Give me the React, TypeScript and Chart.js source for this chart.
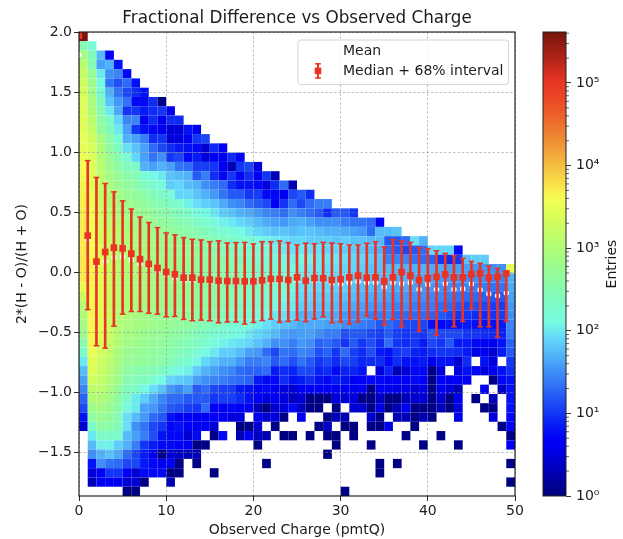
import React, { useEffect, useRef } from "react";
import { Chart, registerables } from "chart.js";

Chart.register(...registerables);

const _ = null;
const TITLE = "Fractional Difference vs Observed Charge";
const X_LABEL = "Observed Charge (pmtQ)";
const Y_LABEL = "2*(H - O)/(H + O)";
const CB_LABEL = "Entries";
const LEGEND_LABELS = ["Mean", "Median + 68% interval"];
const X_TICKS = [0, 10, 20, 30, 40, 50];
const Y_TICKS = [-1.5, -1, -0.5, 0, 0.5, 1, 1.5, 2];
const CB_TICKS = [1, 10, 100, 1000, 10000, 100000];
const CB_TICK_LABELS = ["10⁰", "10¹", "10²", "10³", "10⁴", "10⁵"];
const CB_MINOR = [2,3,4,5,6,7,8,9,20,30,40,50,60,70,80,90,200,300,400,500,600,700,800,900,2000,3000,4000,5000,6000,7000,8000,9000,20000,30000,40000,50000,60000,70000,80000,90000,200000,300000,400000];
const V_MAX = 414000;
const Y_MIN = -1.86;
const Y_MAX = 2;

// log10(entries) per histogram cell: one list per row, top row first, columns left to right
const heatRows = [
[5.62],
[2.5,2.2],
[2.9,2.4,1.75,.65],
[3.1,2.5,1.6,1.7,.8],
[3.2,2.7,2,1.5,1.45,.75],
[3.3,2.8,2.1,1.35,1.15,1.3,.8],
[3.35,2.85,2.2,1.7,1.35,1.1,.95,.8],
[3.4,2.95,2.4,1.8,1.55,1.35,.75,.75,.95,.05],
[3.42,3,2.5,2,1.65,1,1,.85,.95,1,.6],
[3.45,3.1,2.6,2.3,1.9,1.45,1.45,.7,.95,.6,.95,.95],
[3.45,3.2,2.7,2.4,2,1.6,1,.8,.75,.6,.5,.45,.8,.6],
[3.5,3.3,2.95,2.55,2.2,1.7,1.6,1.4,.95,1,.5,.5,.65,1,1.1],
[3.5,3.35,3,2.65,2.35,1.95,1.8,1.6,1.3,1.1,.95,.85,.8,.75,.45,.95,.65],
[3.55,3.4,3.05,2.75,2.5,2.2,1.9,1.6,1.35,1.5,1,1.1,.75,.85,.5,.65,.6,.95,.75],
[3.6,3.4,3.1,2.8,2.6,2.4,2.3,1.7,1.6,1.7,1.6,1.35,1.3,1.05,1.05,1,.65,.3,1,1.1,.5],
[3.62,3.45,3.15,2.85,2.7,2.55,2.45,2.2,2.1,2,1.8,1.75,1.7,1.2,1.4,.95,.75,1,.75,.95,.65,1,.3],
[3.65,3.45,3.2,2.95,2.75,2.65,2.55,2.4,2.25,2.15,1.85,1.9,1.75,1.7,1.5,1.4,1.3,.95,.8,.8,.75,.5,.95,1.3,.3],
[3.68,3.5,3.2,3,2.85,2.75,2.65,2.55,2.4,2.3,2.2,1.9,1.9,1.8,1.7,1.55,1.35,1.2,1.2,1,1.05,.75,.75,.6,1.1,1.2,.95],
[3.7,3.5,3.25,3,2.9,2.8,2.75,2.65,2.55,2.45,2.35,2.25,2.05,1.95,1.85,1.8,1.65,1.5,1.45,1.3,1.2,1.1,.65,1,1.3,1.1,1.3,1.4,1.4],
[3.73,3.55,3.3,3.05,2.95,2.85,2.8,2.75,2.65,2.55,2.5,2.4,2.3,2.15,2.1,2,1.85,1.8,1.7,1.65,1.55,1.45,1.4,1.3,1.5,1.4,1.3,1.2,.95,1.2,1.2,1],
[3.73,3.55,3.3,3.1,3,2.9,2.85,2.8,2.75,2.65,2.6,2.5,2.45,2.35,2.25,2.15,2.05,2,1.9,1.85,1.75,1.65,1.6,1.55,1.65,1.7,1.6,1.5,1.5,1.5,1.4,1.35,1.35,1.3,.65],
[3.73,3.55,3.35,3.15,3.05,2.95,2.9,2.85,2.8,2.75,2.7,2.6,2.55,2.5,2.4,2.3,2.25,2.2,2.1,2,1.9,1.85,1.8,1.8,1.75,1.8,1.8,1.75,1.7,1.7,1.65,1.6,1.55,1.3,1.75,1.75,1.8],
[3.73,3.6,3.35,3.2,3.05,3,2.95,2.9,2.85,2.8,2.75,2.7,2.65,2.6,2.55,2.45,2.4,2.3,2.25,2.2,2.1,2.05,2,1.95,1.9,1.9,1.85,1.85,1.85,1.8,1.85,1.8,1.8,1.75,1.75,1.2,1.2,1.3,1.95,1.7],
[3.73,3.6,3.4,3.2,3.05,3,2.95,2.9,2.85,2.8,2.75,2.75,2.7,2.65,2.55,2.5,2.45,2.4,2.3,2.25,2.2,2.15,2.05,2,1.95,2,1.95,1.95,1.9,1.9,1.85,1.85,1.8,1.75,1.7,1.3,1.2,1.1,1.2,1.3,1.9,1.9,1.9,.75],
[3.73,3.65,3.4,3.2,3.05,3,2.95,2.9,2.85,2.8,2.8,2.75,2.7,2.65,2.6,2.55,2.5,2.45,2.4,2.3,2.25,2.2,2.15,2.1,2.05,2.1,2.05,2,2,2,1.95,1.9,1.9,1.85,1.8,1.45,1.45,1.45,1.35,1.3,1.25,1,.95,1,1.8,1.85,1.85],
[3.73,3.65,3.45,3.25,3.05,3,2.95,2.9,2.85,2.8,2.8,2.75,2.7,2.65,2.6,2.55,2.55,2.5,2.45,2.4,2.3,2.25,2.2,2.15,2.1,2.05,2,2,1.95,1.95,1.9,1.9,1.85,1.8,1.8,1.75,1.75,1.7,1.7,1.7,1.65,1.65,1.6,1.6,1.6,1.55,1.55,1.5,1.5,3.5],
[3.73,3.65,3.5,3.25,3.05,3,2.95,2.9,2.85,2.8,2.8,2.75,2.7,2.65,2.6,2.55,2.55,2.5,2.5,2.4,2.35,2.3,2.25,2.2,2.15,2,2,1.95,1.95,1.9,1.9,1.85,1.8,1.8,1.75,1.75,1.7,1.7,1.65,1.65,1.6,1.55,1.55,1.55,1.5,1.5,1.5,1.45,1.45,1.7],
[3.55,3.65,3.5,3.25,3.05,3,2.95,2.9,2.85,2.8,2.8,2.75,2.7,2.65,2.6,2.55,2.55,2.5,2.45,2.4,2.35,2.3,2.25,2.2,2.1,1.95,1.95,1.9,1.9,1.85,1.85,1.8,1.75,1.75,1.7,1.7,1.65,1.65,1.6,1.55,1.55,1.5,1.5,1.45,1.45,1.4,1.4,1.35,1.35,1.65],
[3.3,3.65,3.5,3.25,3.05,3,2.95,2.9,2.85,2.8,2.75,2.75,2.7,2.65,2.6,2.55,2.55,2.5,2.45,2.35,2.3,2.25,2.2,2.15,2.05,1.9,1.9,1.85,1.85,1.8,1.8,1.75,1.7,1.65,1.65,1.6,1.55,1.55,1.5,1.5,1.45,1.45,1.4,1.35,1.3,1.3,1.25,1.2,1.2,1.6],
[3.05,3.65,3.5,3.25,3.05,3,2.95,2.85,2.85,2.8,2.75,2.7,2.7,2.65,2.6,2.55,2.5,2.45,2.35,2.3,2.25,2.2,2.1,2.05,2,1.85,1.85,1.8,1.8,1.75,1.7,1.65,1.6,1.55,1.55,1.5,1.45,1.5,1.4,1.4,1.4,1.3,1.3,1.2,1.1,1.15,1.1,1.05,1.05,1.55],
[3,3.65,3.5,3.25,3.05,3,2.9,2.85,2.8,2.75,2.7,2.7,2.65,2.6,2.55,2.5,2.4,2.35,2.3,2.25,2.15,2.1,2,1.95,1.9,1.7,1.7,1.7,1.7,1.65,1.55,1.5,1.5,1.4,1.4,1.45,1.3,1.3,1.3,1.3,1.25,1.2,1.1,1,1,.95,.95,1,1.05,1.5],
[2.9,3.65,3.5,3.25,3.05,2.95,2.9,2.85,2.8,2.75,2.7,2.65,2.6,2.55,2.45,2.4,2.3,2.25,2.2,2.15,2.05,1.95,1.85,1.8,1.75,1.65,1.65,1.65,1.6,1.6,1.5,1.45,1.4,1.35,1.2,1.3,1.2,1.1,1.1,1.1,.8,.75,.8,.8,.85,.8,.8,.8,.85,1.45],
[2.8,3.65,3.5,3.25,3.05,2.9,2.85,2.8,2.75,2.7,2.65,2.6,2.5,2.45,2.35,2.25,2.2,2.15,2.1,2,1.9,1.85,1.75,1.6,1.55,1.6,1.6,1.5,1.4,1.4,1.15,1.2,1.2,1.1,1.05,1.2,1.05,1,1.05,1,1.2,1.1,1.1,1.1,1,1,.95,.95,.9,1.4],
[2.55,3.65,3.4,3.2,3,2.85,2.8,2.75,2.7,2.65,2.6,2.5,2.45,2.35,2.25,2.15,2.05,2,1.95,1.9,1.8,1.7,1.5,1.5,1.4,1.55,1.5,1.25,1.3,1.2,1,1.2,1,1.15,.95,1.3,1,.95,1,.85,1.1,1,1.2,.85,.85,.75,.65,.6,.8,1.25],
[2.3,3.55,3.35,3.15,2.95,2.75,2.75,2.7,2.65,2.6,2.55,2.45,2.35,2.25,2.1,2,1.85,1.85,1.75,1.6,1.55,1.3,1.1,1.35,1.3,1.45,1.4,1.15,1.25,1,1.3,1.05,.95,1.15,.85,.8,1,1.05,.9,.85,.95,1,1,.95,.85,.55,.6,.45,.85,1.2],
[2,3.45,3.3,3.1,2.9,2.7,2.7,2.65,2.6,2.55,2.45,2.35,2.25,2.1,1.9,1.8,1.7,1.7,1.55,1.4,1.4,1.45,1.2,1.3,1.15,1.35,1.2,1,1.1,.95,1.1,1.05,.9,.95,.95,.75,.95,.8,.8,.85,.6,.8,.8,.45,.95,_,.8,.5,_,1],
[1.75,3.4,3.25,3.05,2.85,2.6,2.55,2.5,2.45,2.35,2.2,2.1,2.05,1.85,1.7,1.6,1.5,1.45,1.3,1.25,1.25,1.3,.85,.95,.9,1.1,1.1,.9,.95,.75,.9,.9,.8,_,.5,.9,.3,.45,.75,.75,.05,.5,_,.5,.8,.75,.5,.6,.8,.95],
[1.6,3.3,3.2,3,2.8,2.5,2.45,2.4,2.25,2.1,1.9,1.85,1.8,1.6,1.5,1.45,1.4,1.35,1.3,1.25,.85,.75,.75,.95,.8,.85,.95,.8,.75,.85,.8,.65,.65,.75,.75,.65,.7,.65,.75,.7,.05,.7,.7,.65,.6,_,_,.05,.75,.8],
[1.45,3.1,3.1,2.95,2.7,2.4,2.3,2.1,1.95,1.8,1.55,1.45,1.6,1.2,1.3,1.1,1.05,1.05,.85,.8,.7,.75,.65,.5,.45,.7,.65,.7,.65,.6,.65,.6,.65,.05,.6,.6,.55,.55,.45,.55,.05,.6,.5,.3,_,_,.65,_,.35,.8],
[1.25,3,3,2.85,2.6,2.3,2,1.85,1.65,1.45,1.3,1.3,1.2,1.2,1.2,1,1.05,1.05,.95,.8,.65,.5,.6,.5,.3,.45,.05,.05,.05,.5,.45,.5,.05,.05,.35,.05,.05,.3,.45,.45,.05,.45,.05,.6,_,.05,_,.3,_,.8],
[1.1,2.8,2.9,2.75,2.55,2.15,2,1.6,1.55,1.35,1.2,1.15,1.05,1,1.3,.65,.7,.75,.65,.65,.3,.05,.45,.5,.75,.35,.05,.05,_,.05,_,.45,.45,.05,.55,.05,.3,.65,.05,.05,.05,.3,.05,.5,_,_,.05,.05,_,.8],
[.8,2.6,2.75,2.65,2.45,1.95,1.75,1.55,1.3,1.2,.8,.7,.65,.6,.65,.7,.65,.5,.5,_,.6,.45,.5,.05,_,.6,_,_,.05,.3,.3,_,_,.45,.05,_,.3,.3,.05,.3,.05,_,_,.55,_,_,_,.5,_,.75],
[.45,2.3,2.6,2.55,2.4,1.95,1.5,1.35,1.1,1,.75,.8,.7,.6,.65,.45,_,_,.05,.05,.45,_,.05,_,_,_,_,.05,.35,_,.05,.05,_,.05,.05,.55,_,_,.05,_,_,_,_,_,_,_,_,_,.05,.75],
[_,2,2.3,2.3,2.25,1.75,1.6,1.4,1.15,.8,.75,.75,.45,.75,_,.05,.75,_,.3,.65,.35,.3,_,.05,.05,_,.05,_,.05,.05,_,.05,_,_,_,_,_,.05,_,_,_,.05,_,_,_,_,_,_,_,.05],
[_,1.75,2.05,2.05,1.85,1.7,1.4,1,.85,.75,.75,.65,.6,.05,.05,_,_,_,_,_,.05,_,_,_,_,_,_,_,_,.05,_,_,_,.05,_,_,_,_,_,.05,_,_,_,.05,_,_,_,_,_,.6],
[_,1.5,1.7,1.8,1.65,1.3,1.1,.85,.65,.05,.45,.35,.3,.3,_,_,_,_,_,_,_,_,_,_,_,_,_,_,.05],
[_,.8,1.5,1.35,1.3,1.1,1.1,.85,.75,.6,.65,.05,_,.05,_,_,_,_,_,_,_,.05,_,_,_,_,_,_,_,_,_,_,_,_,.05,_,.05,_,_,_,_,_,_,_,_,_,_,_,_,.05],
[_,.5,.65,1,1,.65,.45,.75,.75,.75,.05,.05,_,_,_,.05,_,_,_,_,_,_,_,_,_,_,_,_,_,_,_,_,_,_,.05],
[_,.3,.6,.65,.6,.45,.45,.05,_,_,.3,_,_,_,_,_,_,_,_,_,_,_,_,_,_,_,_,_,_,_,_,_,_,_,_,_,_,_,_,_,_,_,_,_,_,_,_,_,_,.05],
[_,_,_,_,_,.05,.05,_,_,_,_,_,_,_,_,_,_,_,_,_,_,_,_,_,_,_,_,_,_,_,.05],
];

// index = observed charge 0..49
const medianVals = [1.97,.306,.09,.17,.206,.2,.156,.11,.07,.037,.003,-.016,-.044,-.044,-.06,-.06,-.069,-.072,-.072,-.074,-.074,-.066,-.055,-.055,-.063,-.041,-.069,-.047,-.049,-.063,-.058,-.041,-.027,-.044,-.041,-.074,-.041,.003,-.027,-.063,-.047,-.036,-.016,-.041,-.041,-.016,-.008,-.044,-.036,-.008];
const hiVals = [2,.93,.79,.74,.67,.595,.527,.46,.415,.373,.328,.312,.29,.276,.27,.256,.262,.245,.248,.25,.237,.256,.256,.262,.248,.228,.243,.239,.25,.245,.239,.228,.228,.243,.256,.212,.273,.262,.25,.206,.198,.18,.158,.139,.117,.092,.076,.053,.034,.01];
const loVals = [1.95,-.31,-.61,-.63,-.447,-.347,-.325,-.325,-.34,-.347,-.369,-.366,-.391,-.402,-.397,-.402,-.419,-.413,-.413,-.43,-.416,-.4,-.388,-.416,-.408,-.397,-.41,-.388,-.369,-.419,-.413,-.43,-.413,-.363,-.388,-.438,-.391,-.452,-.386,-.488,-.386,-.524,-.324,-.452,-.408,-.302,-.452,-.452,-.538,-.408];
const meanVals = [1.81,.27,.07,.092,.125,.13,.104,.07,.048,.014,-.019,-.047,-.06,-.065,-.07,-.075,-.08,-.085,-.085,-.085,-.085,-.08,-.075,-.075,-.075,-.065,-.08,-.065,-.06,-.09,-.097,-.088,-.077,-.085,-.085,-.124,-.088,-.094,-.085,-.141,-.102,-.141,-.094,-.141,-.135,-.097,-.144,-.18,-.194,-.172];

const FONT = "'DejaVu Sans'";
const TEXT = "#1c1c1c";
const RED = "rgb(234,51,35)";

const lin = (c: number) => (c <= 0.04045 ? c / 12.92 : Math.pow((c + 0.055) / 1.055, 2.4));
const enc = (c: number) => (c <= 0.0031308 ? 12.92 * c : 1.055 * Math.pow(c, 1 / 2.4) - 0.055);
const seg = (t: number, s: number[][]) => {
  for (let i = 1; i < s.length; i++) {
    if (t <= s[i][0]) return s[i - 1][1] + ((t - s[i - 1][0]) / (s[i][0] - s[i - 1][0])) * (s[i][1] - s[i - 1][1]);
  }
  return s[s.length - 1][1];
};
const R = [[0, 0], [0.35, 0], [0.66, 1], [0.89, 1], [1, 0.5]];
const G = [[0, 0], [0.125, 0], [0.375, 1], [0.64, 1], [0.91, 0], [1, 0]];
const B = [[0, 0.5], [0.11, 1], [0.34, 1], [0.65, 0], [1, 0]];
function jet(t: number) {
  const r = lin(seg(t, R)), g = lin(seg(t, G)), b = lin(seg(t, B));
  const to = (v: number) => Math.round(255 * enc(Math.min(1, v)));
  return `rgb(${to(0.8225 * r + 0.1774 * g)},${to(0.0332 * r + 0.9669 * g)},${to(0.0171 * r + 0.0724 * g + 0.9108 * b)})`;
}

const ROW_H = (Y_MAX - Y_MIN) / 50;
const heatCells: { x: number; y: number; v: number }[] = [];
heatRows.forEach((row, r) => row.forEach((v, c) => {
  if (v !== null) heatCells.push({ x: c + 0.5, y: Y_MAX - (r + 0.5) * ROW_H, v });
}));
const lmax = Math.log10(V_MAX);

const heatPlugin = {
  id: "heat",
  beforeDraw(chart: any) {
    const { ctx, scales: { x, y } } = chart;
    ctx.save();
    for (const p of chart.data.datasets[3].data) {
      const x0 = x.getPixelForValue(p.x - 0.5), x1 = x.getPixelForValue(p.x + 0.5);
      const y0 = y.getPixelForValue(p.y + ROW_H / 2), y1 = y.getPixelForValue(p.y - ROW_H / 2);
      ctx.fillStyle = jet(p.v / lmax);
      ctx.fillRect(x0, y0, x1 - x0, y1 - y0);
    }
    ctx.restore();
  },
  afterDraw(chart: any) {
    const { ctx, chartArea: a } = chart;
    ctx.save();
    ctx.strokeStyle = "#111";
    ctx.lineWidth = 1.1;
    ctx.strokeRect(a.left, a.top, a.right - a.left, a.bottom - a.top);
    // legend box
    const bx = 298, by = 40, bw = 210.5, bh = 44.5, rad = 3;
    ctx.beginPath();
    ctx.roundRect(bx, by, bw, bh, rad);
    ctx.fillStyle = "rgba(255,255,255,0.8)";
    ctx.fill();
    ctx.strokeStyle = "#d4d4d4";
    ctx.lineWidth = 1;
    ctx.stroke();
    ctx.fillStyle = TEXT;
    ctx.font = `14px ${FONT}`;
    ctx.textBaseline = "middle";
    ctx.textAlign = "left";
    ctx.fillText(LEGEND_LABELS[0], 343, 51.5);
    ctx.fillText(LEGEND_LABELS[1], 343, 71.5);
    ctx.fillStyle = RED;
    ctx.fillRect(317, 64, 2, 14);
    ctx.fillRect(315.2, 63, 5.6, 1.6);
    ctx.fillRect(315.2, 77.2, 5.6, 1.6);
    ctx.fillRect(314.7, 67.6, 6.6, 6.6);
    ctx.restore();
  },
};

const colorbarPlugin = {
  id: "cbar",
  afterDraw(chart: any) {
    const { ctx, chartArea: a, scales: { y } } = chart;
    ctx.save();
    ctx.strokeStyle = "#222";
    ctx.lineWidth = 1;
    ctx.strokeRect(a.left, a.top, a.right - a.left, a.bottom - a.top);
    ctx.beginPath();
    for (const v of CB_MINOR) {
      const py = y.getPixelForValue(v);
      ctx.moveTo(a.right, py);
      ctx.lineTo(a.right + 3, py);
    }
    ctx.strokeStyle = "#222";
    ctx.lineWidth = 0.7;
    ctx.stroke();
    ctx.translate(82, (a.top + a.bottom) / 2);
    ctx.rotate(-Math.PI / 2);
    ctx.fillStyle = TEXT;
    ctx.font = `14px ${FONT}`;
    ctx.textAlign = "center";
    ctx.textBaseline = "middle";
    ctx.fillText(CB_LABEL, 0, 0);
    ctx.restore();
  },
};

export default function App() {
  const mainRef = useRef<HTMLCanvasElement>(null);
  const barRef = useRef<HTMLCanvasElement>(null);

  useEffect(() => {
    const xs = medianVals.map((_v, i) => i);
    const tickFont = { family: FONT, size: 14 };
    const main = new Chart(mainRef.current!, {
      type: "scatter",
      plugins: [heatPlugin],
      data: {
        datasets: [
          { label: "median", data: xs.map((x) => ({ x, y: medianVals[x] })), pointStyle: "rect", pointRadius: 4.7, backgroundColor: RED, borderWidth: 0, order: 0 },
          { label: "stems", type: "bar", data: xs.map((x) => ({ x, y: [loVals[x], hiVals[x]] })), barThickness: 2, backgroundColor: RED, grouped: false, order: 1 },
          { label: "caps", data: xs.flatMap((x) => [{ x, y: loVals[x] }, { x, y: hiVals[x] }]), pointStyle: "line", pointRadius: 2.8, borderColor: RED, borderWidth: 1.5, order: 1 },
          { label: "heat", data: heatCells, pointRadius: 0, order: 4 },
          { label: "mean", data: xs.map((x) => ({ x, y: meanVals[x] })), pointStyle: "circle", pointRadius: 2.7, backgroundColor: "#fff", borderWidth: 0, order: 3 },
        ],
      } as any,
      options: {
        responsive: false,
        animation: false,
        events: [],
        layout: { padding: { left: 0, right: 108, top: 0, bottom: 0 } },
        plugins: {
          legend: { display: false },
          tooltip: { enabled: false },
          title: {
            display: true,
            text: TITLE,
            fullSize: false,
            color: TEXT,
            font: { family: FONT, size: 16.8, weight: "normal" },
            padding: { top: 9, bottom: 2.84 },
          },
        },
        scales: {
          x: {
            type: "linear",
            min: 0,
            max: 50,
            offset: false,
            afterFit: (s: any) => { s.height = 43; },
            afterBuildTicks: (s: any) => { s.ticks = X_TICKS.map((value) => ({ value })); },
            ticks: { font: tickFont, color: TEXT, padding: 2, maxRotation: 0, callback: (v: any) => String(v) },
            grid: { offset: false, color: "rgba(135,135,135,0.6)", lineWidth: 0.9, tickColor: "#111", tickLength: 5, tickWidth: 0.9 },
            border: { dash: [2.4, 2], display: false },
            title: { display: true, text: X_LABEL, color: TEXT, font: tickFont, padding: { top: 3, bottom: 0.5 } },
          },
          y: {
            type: "linear",
            min: Y_MIN,
            max: Y_MAX,
            afterFit: (s: any) => { s.width = 79; },
            afterBuildTicks: (s: any) => { s.ticks = Y_TICKS.map((value) => ({ value })); },
            ticks: { font: tickFont, color: TEXT, padding: 2, callback: (v: any) => Number(v).toFixed(1).replace("-", "\u2212") },
            grid: { color: "rgba(135,135,135,0.6)", lineWidth: 0.9, tickColor: "#111", tickLength: 5, tickWidth: 0.9 },
            border: { dash: [2.4, 2], display: false },
            title: { display: true, text: Y_LABEL, color: TEXT, font: tickFont, padding: { top: 14, bottom: 0 } },
          },
        },
      },
    } as any);

    const cbar = new Chart(barRef.current!, {
      type: "bar",
      plugins: [colorbarPlugin],
      data: {
        labels: [""],
        datasets: [{
          data: [[1, V_MAX]],
          barPercentage: 1,
          categoryPercentage: 1,
          borderWidth: 0,
          backgroundColor: (c: any) => {
            const a = c.chart.chartArea;
            if (!a) return "#000";
            const g = c.chart.ctx.createLinearGradient(0, a.bottom, 0, a.top);
            for (let i = 0; i <= 64; i++) g.addColorStop(i / 64, jet(i / 64));
            return g;
          },
        }],
      } as any,
      options: {
        responsive: false,
        animation: false,
        events: [],
        layout: { padding: { left: 13, right: 0, top: 32, bottom: 43 } },
        plugins: { legend: { display: false }, tooltip: { enabled: false } },
        scales: {
          x: { display: false },
          y: {
            type: "logarithmic",
            position: "right",
            min: 1,
            max: V_MAX,
            afterFit: (s: any) => { s.width = 57; },
            afterBuildTicks: (s: any) => { s.ticks = CB_TICKS.map((value) => ({ value })); },
            ticks: { font: { family: FONT, size: 14 }, color: TEXT, padding: 5, autoSkip: false, callback: (v: any) => CB_TICK_LABELS[CB_TICKS.indexOf(Number(v))] },
            grid: { drawOnChartArea: false, tickColor: "#222", tickLength: 5, tickWidth: 0.9 },
            border: { display: false },
          },
        },
      },
    } as any);

    return () => {
      main.destroy();
      cbar.destroy();
    };
  }, []);

  return (
    <div style={{ position: "absolute", left: 0, top: 0, width: 623, height: 539, background: "#fff" }}>
      <canvas ref={mainRef} width={623} height={539} style={{ position: "absolute", left: 0, top: 0 }} />
      <canvas ref={barRef} width={93} height={539} style={{ position: "absolute", left: 530, top: 0 }} />
    </div>
  );
}
